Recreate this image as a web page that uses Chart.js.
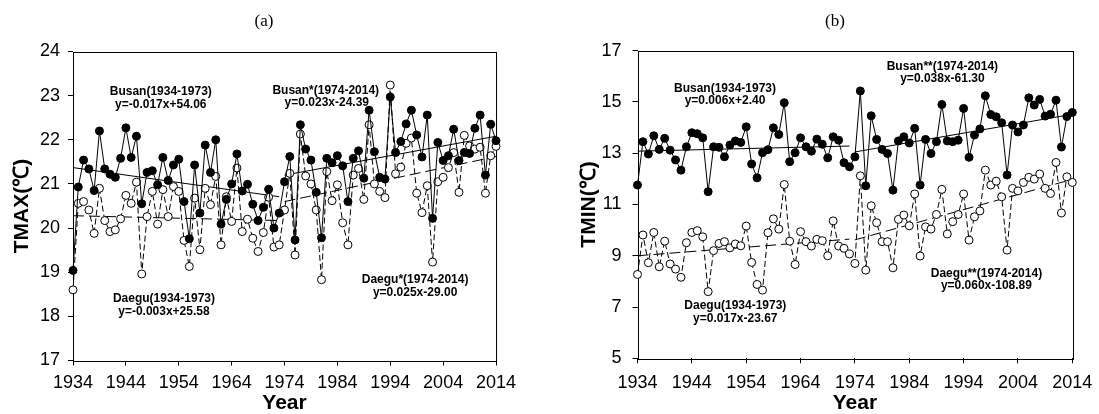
<!DOCTYPE html>
<html lang="en">

<head>
  <meta charset="UTF-8">
  <title>TMAX / TMIN, Busan and Daegu</title>
  <script src="https://cdn.jsdelivr.net/npm/chart.js"></script>
  <style>
    body { margin: 0; background: #fff; }
    #wrap { position: relative; width: 1099px; height: 414px; }
    canvas { position: absolute; top: 0; }
  </style>
</head>

<body>
  <div id="wrap">
    <canvas id="chartA" width="540" height="414" style="left:0"></canvas>
    <canvas id="chartB" width="559" height="414" style="left:540px"></canvas>
  </div>

  <script>
    // years run 1934..2014, one value per year
    const firstYear = 1934;
    const yearTicks = [1934, 1944, 1954, 1964, 1974, 1984, 1994, 2004, 2014];
    const tmaxTicks = [17, 18, 19, 20, 21, 22, 23, 24];
    const tminTicks = [5, 7, 9, 11, 13, 15, 17];

    const busanTmax = [
      19.04, 20.93, 21.54, 21.34, 20.85, 22.20, 21.34, 21.22, 21.15, 21.58,
      22.27, 21.60, 22.08, 20.55, 21.26, 21.30, 20.98, 21.60, 21.08, 21.43,
      21.56, 20.60, 19.76, 21.43, 20.34, 21.88, 21.26, 22.00, 20.09, 20.65,
      21.00, 21.68, 20.84, 20.99, 20.54, 20.17, 20.47, 20.88, 20.00, 20.34,
      21.05, 21.62, 19.73, 22.34, 21.79, 21.54, 20.81, 19.78, 21.58, 21.48,
      21.64, 21.41, 20.60, 21.58, 21.75, 21.13, 22.67, 21.73, 21.15, 21.11,
      22.97, 21.71, 21.96, 22.36, 22.67, 22.11, 21.61, 22.56, 20.22, 21.94,
      21.53, 21.64, 22.24, 21.53, 21.71, 21.69, 22.26, 22.56, 21.20, 22.35,
      21.98
    ];
    const daeguTmax = [
      18.60, 20.56, 20.60, 20.41, 19.88, 20.90, 20.17, 19.92, 19.96, 20.21,
      20.74, 20.56, 21.04, 18.96, 20.26, 20.83, 20.09, 20.87, 20.26, 20.94,
      20.83, 19.72, 19.13, 20.68, 19.51, 20.90, 20.53, 21.17, 19.62, 20.71,
      20.15, 21.36, 19.92, 20.20, 19.77, 19.47, 19.90, 20.70, 19.57, 19.62,
      20.41, 21.24, 19.39, 22.13, 21.18, 21.00, 20.41, 18.83, 21.28, 20.62,
      20.98, 20.12, 19.62, 21.20, 21.35, 20.65, 22.34, 21.00, 20.83, 20.69,
      23.24, 21.23, 21.38, 21.92, 22.04, 20.79, 20.35, 20.96, 19.23, 21.05,
      21.15, 21.37, 21.71, 20.81, 22.10, 21.86, 21.79, 21.83, 20.79, 21.64,
      21.85
    ];
    const busanTmin = [
      11.76, 13.45, 12.97, 13.68, 13.15, 13.58, 13.12, 12.74, 12.34, 13.25,
      13.80, 13.76, 13.60, 11.50, 13.25, 13.23, 12.86, 13.32, 13.48, 13.42,
      14.03, 12.58, 12.04, 13.02, 13.14, 13.99, 13.73, 14.97, 12.67, 13.02,
      13.60, 13.25, 13.08, 13.55, 13.35, 12.82, 13.64, 13.51, 12.63, 12.47,
      12.86, 15.43, 11.73, 14.46, 13.54, 13.15, 12.99, 11.56, 13.48, 13.64,
      13.40, 13.97, 11.76, 13.54, 12.99, 13.45, 14.90, 13.48, 13.45, 13.51,
      14.75, 12.84, 13.71, 13.95, 15.24, 14.51, 14.42, 14.19, 12.15, 14.10,
      13.83, 14.10, 15.16, 14.88, 15.10, 14.45, 14.52, 15.07, 13.24, 14.43,
      14.59
    ];
    const daeguTmin = [
      8.27, 9.81, 8.73, 9.91, 8.57, 9.57, 8.68, 8.48, 8.16, 9.51,
      9.91, 9.98, 9.74, 7.60, 9.20, 9.48, 9.55, 9.31, 9.46, 9.39,
      10.16, 8.74, 7.88, 7.66, 9.90, 10.44, 10.04, 11.78, 9.57, 8.66,
      9.94, 9.55, 9.38, 9.64, 9.59, 9.00, 10.36, 9.38, 9.29, 9.07,
      8.70, 12.12, 8.44, 10.95, 10.29, 9.55, 9.55, 8.53, 10.42, 10.59,
      10.17, 11.41, 8.99, 10.13, 10.04, 10.61, 11.59, 9.85, 10.33, 10.61,
      11.41, 9.61, 10.52, 10.75, 12.34, 11.76, 11.91, 11.30, 9.22, 11.63,
      11.53, 11.86, 12.06, 11.99, 12.19, 11.63, 11.43, 12.64, 10.67, 12.08,
      11.86
    ];

    // fitted trend lines as drawn (start and end of each period)
    const earlyYears = [1934, 1973];
    const lateYears = [1974, 2014];
    const busanTmaxEarly = [21.37, 20.71];
    const busanTmaxLate = [21.20, 22.08];
    const daeguTmaxEarly = [20.28, 20.17];
    const daeguTmaxLate = [20.60, 21.62];
    const busanTminEarly = [13.08, 13.28];
    const busanTminLate = [13.05, 14.52];
    const daeguTminEarly = [9.00, 9.65];
    const daeguTminLate = [9.62, 11.98];

    const sans = "'Liberation Sans', Arial, sans-serif";

    const series = values => values.map((v, i) => ({ x: firstYear + i, y: v }));
    const trend = (years, values) => years.map((x, i) => ({ x, y: values[i] }));

    function stationSet(values, filled) {
      return {
        data: series(values),
        borderColor: '#000',
        borderWidth: 1,
        borderDash: filled ? [] : [6, 3],
        pointRadius: 4,
        pointBorderWidth: 1,
        pointBorderColor: '#000',
        pointBackgroundColor: filled ? '#000' : '#fff',
        tension: 0,
        clip: false,
        order: filled ? 0 : 1
      };
    }

    function trendSet(years, values, dashed) {
      return {
        data: trend(years, values),
        borderColor: '#000',
        borderWidth: 1,
        borderDash: dashed ? [11, 5] : [],
        pointRadius: 0,
        tension: 0,
        order: 2
      };
    }

    // box around plot area + free text labels
    const notesPlugin = {
      id: 'notes',
      beforeDatasetsDraw(chart) {
        const { ctx, chartArea: a } = chart;
        ctx.save();
        ctx.strokeStyle = '#000';
        ctx.lineWidth = 1;
        ctx.strokeRect(Math.round(a.left) + 0.5, Math.round(a.top) + 0.5,
          Math.round(a.right - a.left), Math.round(a.bottom - a.top));
        ctx.restore();
      },
      afterDraw(chart, args, opts) {
        const { ctx, scales } = chart;
        ctx.save();
        ctx.fillStyle = '#000';
        ctx.textAlign = 'center';
        ctx.textBaseline = 'middle';
        ctx.font = "17px 'Liberation Serif', 'Times New Roman', serif";
        ctx.fillText(opts.panel, opts.panelX, 22);
        ctx.font = 'bold 12px ' + sans;
        opts.items.forEach(n => {
          ctx.fillText(n.text, scales.x.getPixelForValue(n.x), scales.y.getPixelForValue(n.y));
        });
        ctx.restore();
      }
    };

    function makeChart(id, cfg) {
      const tickFont = { family: sans, size: 18 };
      const titleFont = { family: sans, size: 21, weight: 'bold', lineHeight: 1.2 };
      const grid = { display: true, drawOnChartArea: false, drawTicks: true, tickLength: 5, color: '#000', lineWidth: 1 };
      return new Chart(document.getElementById(id), {
        type: 'line',
        data: { datasets: cfg.datasets },
        plugins: [notesPlugin],
        options: {
          responsive: false,
          animation: false,
          layout: { padding: { left: 0, right: cfg.padRight, top: cfg.padTop, bottom: 0 } },
          plugins: {
            legend: { display: false },
            tooltip: { enabled: false },
            notes: { panel: cfg.panel, panelX: cfg.panelX, items: cfg.notes }
          },
          scales: {
            x: {
              type: 'linear',
              min: 1934,
              max: 2014,
              afterBuildTicks: s => { s.ticks = yearTicks.map(v => ({ value: v })); },
              afterFit: s => { s.height = cfg.xHeight; s.paddingLeft = 0; s.paddingRight = 0; },
              ticks: { callback: v => String(v), font: tickFont, color: '#000', padding: cfg.xPad, maxRotation: 0, autoSkip: false },
              grid: grid,
              border: { display: false },
              title: { display: true, text: 'Year', color: '#000', font: { family: sans, size: 21, weight: 'bold', lineHeight: 1 }, padding: 0 }
            },
            y: {
              type: 'linear',
              min: cfg.yMin,
              max: cfg.yMax,
              afterBuildTicks: s => { s.ticks = cfg.yTicks.map(v => ({ value: v })); },
              afterFit: s => { s.width = cfg.yWidth; s.paddingTop = 0; s.paddingBottom = 0; },
              ticks: { font: tickFont, color: '#000', padding: cfg.yPad },
              grid: grid,
              border: { display: false },
              title: { display: true, text: cfg.yTitle, color: '#000', font: titleFont, padding: { top: cfg.yTitlePad, bottom: 0 } }
            }
          }
        }
      });
    }

    makeChart('chartA', {
      panel: '(a)', panelX: 264,
      padRight: 44, padTop: 51.5, xHeight: 53.5, yWidth: 73,
      xPad: 7, yPad: 8, yTitlePad: 9.4,
      yMin: 17, yMax: 24, yTicks: tmaxTicks, yTitle: 'TMAX(℃)',
      datasets: [
        trendSet(earlyYears, busanTmaxEarly, false),
        trendSet(lateYears, busanTmaxLate, false),
        trendSet(earlyYears, daeguTmaxEarly, true),
        trendSet(lateYears, daeguTmaxLate, true),
        stationSet(daeguTmax, false),
        stationSet(busanTmax, true)
      ],
      notes: [
        { text: 'Busan(1934-1973)', x: 1950.6, y: 23.08 },
        { text: 'y=-0.017x+54.06', x: 1950.6, y: 22.80 },
        { text: 'Daegu(1934-1973)', x: 1951.2, y: 18.41 },
        { text: 'y=-0.003x+25.58', x: 1951.2, y: 18.11 },
        { text: 'Busan*(1974-2014)', x: 1981.8, y: 23.11 },
        { text: 'y=0.023x-24.39', x: 1982.0, y: 22.83 },
        { text: 'Daegu*(1974-2014)', x: 1998.7, y: 18.82 },
        { text: 'y=0.025x-29.00', x: 1998.7, y: 18.54 }
      ]
    });

    makeChart('chartB', {
      panel: '(b)', panelX: 295,
      padRight: 26.7, padTop: 50.7, xHeight: 55.7, yWidth: 97.5,
      xPad: 9, yPad: 11, yTitlePad: 36.4,
      yMin: 5, yMax: 17, yTicks: tminTicks, yTitle: 'TMIN(℃)',
      datasets: [
        trendSet(earlyYears, busanTminEarly, false),
        trendSet(lateYears, busanTminLate, false),
        trendSet(earlyYears, daeguTminEarly, true),
        trendSet(lateYears, daeguTminLate, true),
        stationSet(daeguTmin, false),
        stationSet(busanTmin, true)
      ],
      notes: [
        { text: 'Busan(1934-1973)', x: 1950.1, y: 15.53 },
        { text: 'y=0.006x+2.40', x: 1950.1, y: 15.05 },
        { text: 'Busan**(1974-2014)', x: 1990.1, y: 16.36 },
        { text: 'y=0.038x-61.30', x: 1990.1, y: 15.90 },
        { text: 'Daegu(1934-1973)', x: 1952.0, y: 7.07 },
        { text: 'y=0.017x-23.67', x: 1952.0, y: 6.54 },
        { text: 'Daegu**(1974-2014)', x: 1998.2, y: 8.29 },
        { text: 'y=0.060x-108.89', x: 1998.2, y: 7.84 }
      ]
    });
  </script>
</body>

</html>
